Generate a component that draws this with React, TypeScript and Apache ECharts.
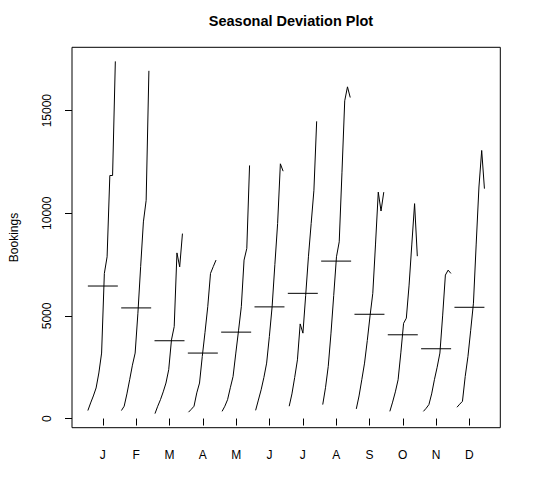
import React, { useEffect, useRef } from "react";
import * as echarts from "echarts";

const monthLabels = ["J", "F", "M", "A", "M", "J", "J", "A", "S", "O", "N", "D"];
const yTicks = [0, 5000, 10000, 15000];
const nYears = 11;

const jan = [390, 760, 1100, 1490, 2220, 3190, 7070, 7880, 11840, 11840, 17400];
const feb = [390, 600, 1200, 1890, 2600, 3190, 5130, 7400, 9580, 10630, 16940];
const mar = [240, 600, 920, 1300, 1730, 2380, 3830, 4480, 8070, 7390, 9010];
const apr = [310, 450, 600, 1250, 1730, 3020, 4200, 5450, 7070, 7400, 7720];
const may = [350, 600, 920, 1500, 2050, 3190, 4300, 5450, 7720, 8290, 12330];
const jun = [400, 900, 1400, 2000, 2700, 4000, 5450, 7500, 9500, 12410, 12050];
const jul = [600, 1200, 2000, 2860, 4610, 4160, 6000, 7880, 9500, 11120, 14480];
const aug = [680, 1500, 2540, 4160, 6000, 7880, 8610, 12000, 15480, 16160, 15640];
const sep = [470, 1100, 1890, 2700, 3800, 5000, 6100, 8500, 11030, 10110, 11030];
const oct = [350, 800, 1300, 1890, 3200, 4640, 4890, 6500, 8500, 10470, 7910];
const nov = [350, 500, 680, 1200, 1890, 2500, 3190, 5000, 6990, 7230, 7070];
const dec = [550, 700, 840, 2050, 3020, 4300, 5620, 8500, 11280, 13060, 11200];
const monthData = [jan, feb, mar, apr, may, jun, jul, aug, sep, oct, nov, dec];
const monthMeans = [6456, 5390, 3790, 3190, 4210, 5440, 6100, 7670, 5080, 4080, 3400, 5420];

export default function App() {
  const ref = useRef<HTMLDivElement>(null);
  useEffect(() => {
    if (!ref.current) return;
    const chart = echarts.init(ref.current, undefined, { renderer: "svg" });
    const totalSpan = nYears * 12 - 1;
    const series: any[] = [];
    monthData.forEach((vals, i) => {
      const m = i + 1;
      series.push({
        type: "line",
        data: vals.map((v, k) => [m - 0.45 + (0.9 * (k * 12 + i)) / totalSpan, v]),
        symbol: "none",
        lineStyle: { color: "#000", width: 1 },
        silent: true,
      });
      series.push({
        type: "line",
        data: [
          [m - 0.45, monthMeans[i]],
          [m + 0.45, monthMeans[i]],
        ],
        symbol: "none",
        lineStyle: { color: "#000", width: 1 },
        silent: true,
      });
    });
    const font = "'Liberation Sans', Arial, Helvetica, sans-serif";
    chart.setOption({
      animation: false,
      title: {
        text: "Seasonal Deviation Plot",
        left: 286,
        top: 8,
        textAlign: "center",
        textStyle: { fontFamily: font, fontSize: 14.5, fontWeight: "bold", color: "#000" },
      },
      grid: {
        left: 71.7,
        right: 45.7,
        top: 47.3,
        bottom: 67.3,
        show: true,
        borderColor: "#000",
        borderWidth: 1,
        backgroundColor: "transparent",
      },
      xAxis: {
        type: "value",
        min: 0.074,
        max: 12.926,
        axisLine: { show: false },
        splitLine: { show: false },
        axisTick: {
          show: true,
          length: 7,
          customValues: monthLabels.map((_, i) => i + 1),
          lineStyle: { color: "#000" },
        },
        axisLabel: {
          customValues: monthLabels.map((_, i) => i + 1),
          formatter: (v: number) => monthLabels[Math.round(v) - 1] ?? "",
          margin: 21,
          fontFamily: font,
          fontSize: 12,
          color: "#000",
        },
      },
      yAxis: {
        type: "value",
        min: -446,
        max: 18086,
        name: "Bookings",
        nameLocation: "middle",
        nameGap: 52,
        nameTextStyle: { fontFamily: font, fontSize: 12, color: "#000" },
        axisLine: { show: false },
        splitLine: { show: false },
        axisTick: {
          show: true,
          length: 7,
          customValues: yTicks,
          lineStyle: { color: "#000" },
        },
        axisLabel: {
          customValues: yTicks,
          formatter: (v: number) => String(v),
          rotate: 90,
          margin: 19,
          fontFamily: font,
          fontSize: 12,
          color: "#000",
        },
      },
      series,
    });
    return () => chart.dispose();
  }, []);
  return <div ref={ref} style={{ width: 546, height: 495, position: "absolute", left: 0, top: 0 }} />;
}
